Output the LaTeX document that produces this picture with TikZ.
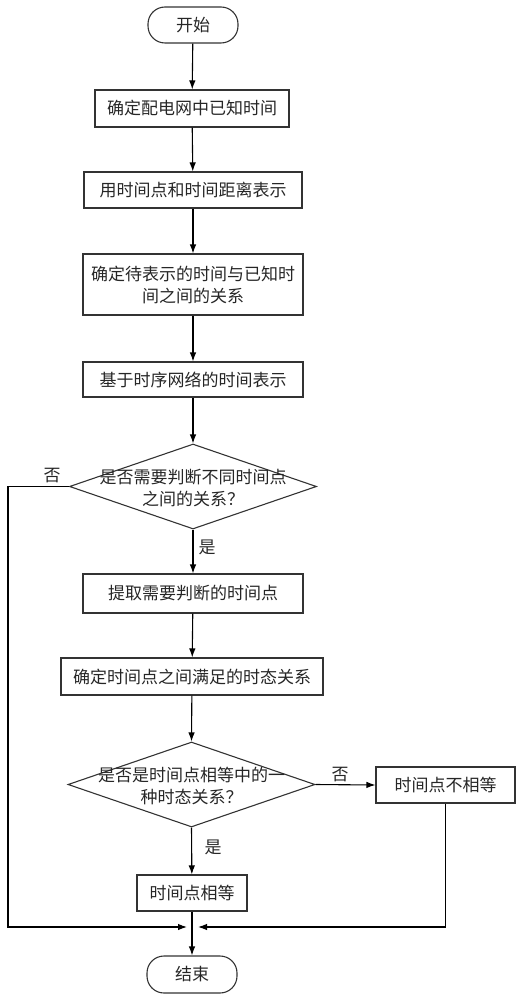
\documentclass[tikz,border=0pt]{standalone}
\usepackage{fontspec}
\newfontfamily\cjk{Noto Sans CJK SC}
\usetikzlibrary{arrows.meta,shapes.geometric}

\begin{document}
\begin{tikzpicture}[x=1pt, y=-1pt, >={Latex[length=9pt,width=6.5pt]}, line width=1.1pt,
		every node/.style={font=\cjk\fontsize{17}{22}\selectfont, text=black!85},
		box/.style={draw=black!80, rectangle, align=center, inner sep=0pt},
		term/.style={box, rounded corners=17pt},
		cond/.style={draw=black!80, diamond, inner sep=0pt},
		lbl/.style={inner sep=1pt}]
				% 0. 画布范围
				\useasboundingbox (0,0) rectangle (525,1000);
				
				% 1. 流程节点
				\node[term, minimum width=90pt, minimum height=36pt] (start) at (193, 25) {开始};
				\node[box, minimum width=194pt, minimum height=37pt] (known) at (192, 108.5) {确定配电网中已知时间};
				\node[box, minimum width=218pt, minimum height=36pt] (repr) at (193, 190) {用时间点和时间距离表示};
				\node[box, minimum width=220pt, minimum height=61pt] (rel) at (193, 284.5) {确定待表示的时间与已知时\\间之间的关系};
				\node[box, minimum width=220pt, minimum height=35pt] (net) at (193, 379.5) {基于时序网络的时间表示};
				
				% 2. 第一个判断
				\node[cond, minimum width=247pt, minimum height=85pt] (ask) at (193, 486.5) {};
				\node[align=center] (askt) at (193, 488) {是否需要判断不同时间点\\之间的关系？};
				
				\node[box, minimum width=220pt, minimum height=39pt] (pick) at (193, 593.5) {提取需要判断的时间点};
				\node[box, minimum width=262pt, minimum height=37pt] (tmp) at (192, 676.5) {确定时间点之间满足的时态关系};
				
				% 3. 第二个判断
				\node[cond, minimum width=247pt, minimum height=85pt] (eq) at (191.5, 784.5) {};
				\node[align=center] (eqt) at (191.5, 786) {是否是时间点相等中的一\\种时态关系？};
				
				\node[box, minimum width=139pt, minimum height=36pt] (neq) at (445.5, 785) {时间点不相等};
				\node[box, minimum width=110pt, minimum height=36pt] (same) at (192, 893) {时间点相等};
				\node[term, minimum width=90pt, minimum height=37pt] (stop) at (192, 974.5) {结束};
				
				% 4. 分支标号
				\node[lbl] (no1) at (52, 476) {否};
				\node[lbl] (yes1) at (207, 547) {是};
				\node[lbl] (no2) at (340, 775) {否};
				\node[lbl] (yes2) at (213, 847) {是};
				
				% 5. 汇合点
				\coordinate (cornerL) at (8, 927);
				\coordinate (mL) at (187, 927);
				\coordinate (mR) at (198, 927);
				
				% 6. 连线
				\draw[->] (start) -- (known);
				\draw[->] (known) -- (repr);
				\draw[->] (repr) -- (rel);
				\draw[->] (rel) -- (net);
				\draw[->] (net) -- (ask.north);
				\draw[->] (ask.south) -- (pick);
				\draw[->] (pick) -- (tmp);
				\draw[->] (tmp) -- (eq.north);
				\draw[->] (eq.east) -- (neq.west);
				\draw[->] (eq.south) -- (same);
				\draw[->] (same) -- (stop);
				\draw[->] (ask.west) -| (cornerL) -- (mL);
				\draw[->] (neq.south) |- (mR);
			\end{tikzpicture}
\end{document}
